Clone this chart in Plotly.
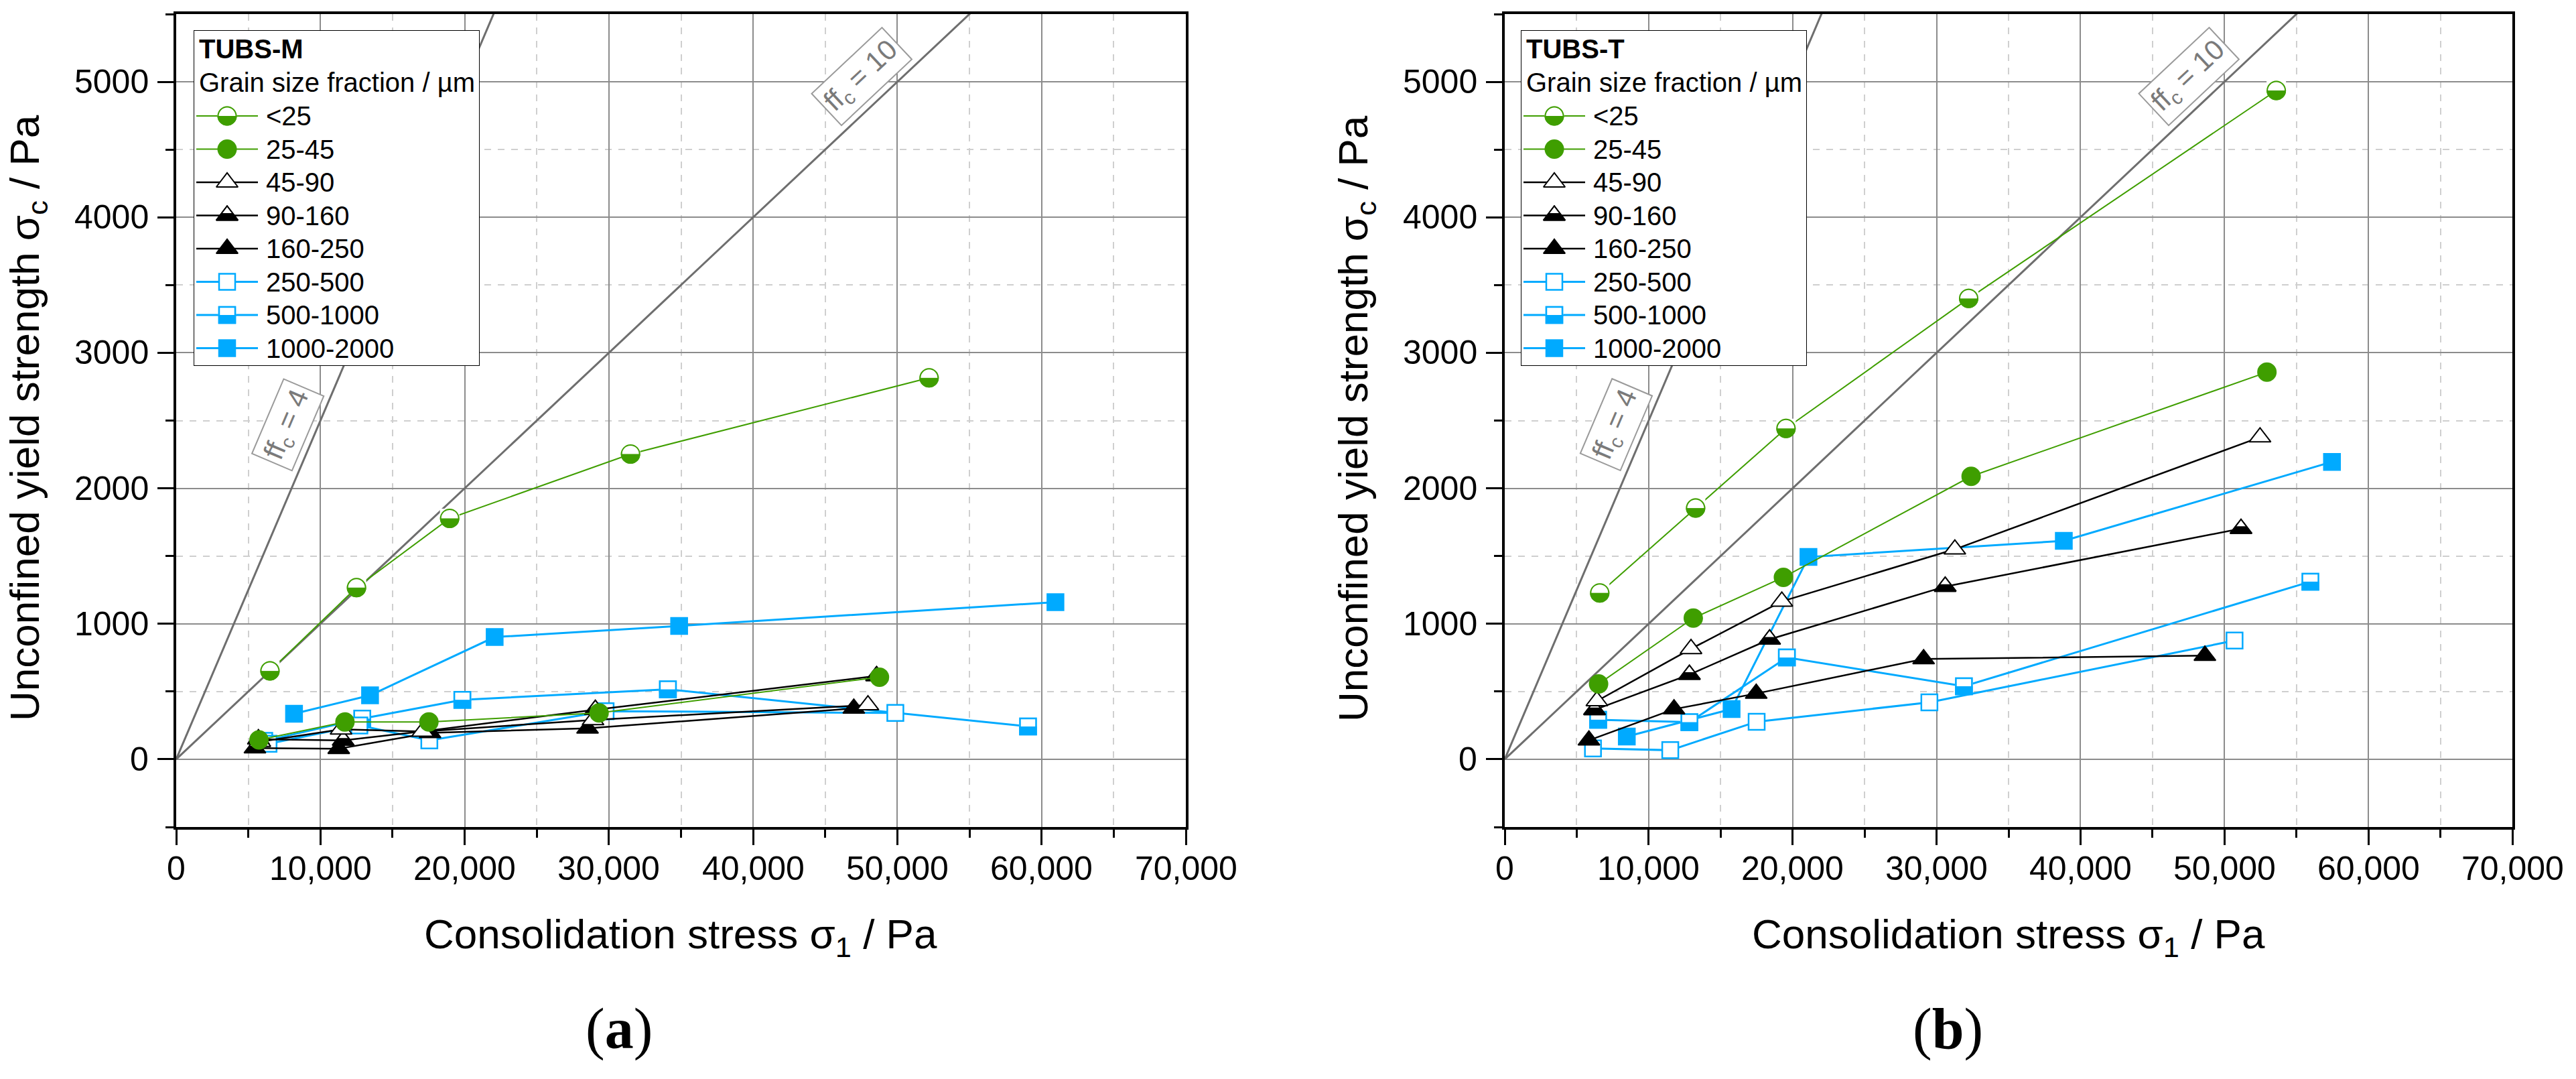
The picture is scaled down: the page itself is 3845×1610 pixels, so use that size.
import math
import plotly.graph_objects as go

W, H = 3845, 1610

fractions = ["<25", "25-45", "45-90", "90-160", "160-250", "250-500", "500-1000", "1000-2000"]

# (a) TUBS-M, consolidation stress sigma_1 / Pa and unconfined yield strength sigma_c / Pa
m_x_lt25 = [6500, 12500, 18960, 31500, 52200]
m_y_lt25 = [652, 1267, 1778, 2253, 2815]
m_x_25_45 = [5740, 11700, 17520, 29320, 48760]
m_y_25_45 = [143, 275, 275, 342, 606]
m_x_45_90 = [5800, 11430, 17090, 28900, 47960]
m_y_45_90 = [130, 221, 205, 290, 400]
m_x_90_160 = [5700, 11580, 17400, 29060, 48560]
m_y_90_160 = [148, 139, 210, 366, 615]
m_x_160_250 = [5460, 11270, 17600, 28520, 46980]
m_y_160_250 = [82, 78, 195, 228, 375]
m_x_250_500 = [6400, 12700, 17550, 29770, 49860]
m_y_250_500 = [115, 250, 139, 355, 342]
m_x_500_1000 = [6100, 12900, 19840, 34090, 59060]
m_y_500_1000 = [135, 300, 439, 516, 242]
m_x_1000_2000 = [8170, 13440, 22080, 34870, 60960]
m_y_1000_2000 = [336, 472, 902, 984, 1160]

# (b) TUBS-T
t_x_lt25 = [6600, 13260, 19540, 32230, 53600]
t_y_lt25 = [1228, 1854, 2442, 3401, 4936]
t_x_25_45 = [6520, 13100, 19360, 32400, 52950]
t_y_25_45 = [556, 1042, 1343, 2088, 2857]
t_x_45_90 = [6400, 12940, 19250, 31270, 52470]
t_y_45_90 = [430, 815, 1165, 1550, 2377]
t_x_90_160 = [6240, 12830, 18400, 30600, 51150]
t_y_90_160 = [365, 625, 885, 1275, 1702]
t_x_160_250 = [5850, 11760, 17470, 29100, 48640]
t_y_160_250 = [140, 370, 485, 740, 765]
t_x_250_500 = [6130, 11500, 17500, 29500, 50700]
t_y_250_500 = [80, 67, 277, 420, 876]
t_x_500_1000 = [6490, 12830, 19600, 31900, 55970]
t_y_500_1000 = [292, 274, 751, 539, 1311]
t_x_1000_2000 = [8480, 15760, 21100, 38840, 57470]
t_y_1000_2000 = [168, 371, 1493, 1612, 2195]

ffc_values = [4, 10]
x_range = [0, 70000]
y_range = [-500, 5500]
x_tick_values = [0, 10000, 20000, 30000, 40000, 50000, 60000, 70000]
y_tick_values = [0, 1000, 2000, 3000, 4000, 5000]

tubs_m = [(m_x_lt25, m_y_lt25), (m_x_25_45, m_y_25_45), (m_x_45_90, m_y_45_90),
          (m_x_90_160, m_y_90_160), (m_x_160_250, m_y_160_250), (m_x_250_500, m_y_250_500),
          (m_x_500_1000, m_y_500_1000), (m_x_1000_2000, m_y_1000_2000)]
tubs_t = [(t_x_lt25, t_y_lt25), (t_x_25_45, t_y_25_45), (t_x_45_90, t_y_45_90),
          (t_x_90_160, t_y_90_160), (t_x_160_250, t_y_160_250), (t_x_250_500, t_y_250_500),
          (t_x_500_1000, t_y_500_1000), (t_x_1000_2000, t_y_1000_2000)]

GREEN = "#3f9e00"
BLUE = "#00aaff"
BLACK = "#000000"
GRID = "#8c8c8c"
GRID_MINOR = "#cfcfcf"
FFC_GREY = "#6e6e6e"
SANS = "Liberation Sans, Arial, sans-serif"

styles = [
    dict(color=GREEN, kind="circle", fill="half", lw=2),
    dict(color=GREEN, kind="circle", fill="full", lw=2),
    dict(color=BLACK, kind="triangle", fill="open", lw=2.5),
    dict(color=BLACK, kind="triangle", fill="half", lw=2.5),
    dict(color=BLACK, kind="triangle", fill="full", lw=2.5),
    dict(color=BLUE, kind="square", fill="open", lw=3),
    dict(color=BLUE, kind="square", fill="half", lw=3),
    dict(color=BLUE, kind="square", fill="full", lw=3),
]
SYMBOL = {"circle": "circle", "triangle": "triangle-up", "square": "square"}
SIZE = {"circle": 27, "triangle": 28, "square": 24}
OUTLINE = {"circle": 2, "triangle": 2, "square": 2.5}

# pixel layout of the two panels
PX_LEFT = [263, 1770]
PX_RIGHT = [2246, 3750]
PX_TOP, PX_BOTTOM = 21, 1234
SHIFT = PX_RIGHT[0] - PX_LEFT[0]


def fx(p):
    return p / W


def fy(p):
    return 1 - p / H


def marker_layers(x, y, st, xa, ya):
    col, kind, fill = st["color"], st["kind"], st["fill"]
    d, ow, sym = SIZE[kind], OUTLINE[kind], SYMBOL[kind]
    common = dict(x=x, y=y, mode="markers", xaxis=xa, yaxis=ya,
                  hoverinfo="skip", showlegend=False)
    out = [go.Scatter(marker=dict(symbol=sym, size=d, color=col if fill != "open" else "white",
                                  line=dict(color=col, width=ow)), **common)]
    if fill == "half":
        # white cap over the upper half, then the outline again
        if kind == "triangle":
            cap = dict(symbol="triangle-down", size=d / 2, color="white",
                       line=dict(width=0), angle=180, standoff=d / 4)
        else:
            w = d / 2 + ow / 2
            cap = dict(symbol="line-ew", size=(d + ow) / 1.4, color="white",
                       line=dict(color="white", width=w), angle=180, standoff=w / 2)
        out.append(go.Scatter(marker=cap, **common))
        out.append(go.Scatter(marker=dict(symbol=sym + "-open", size=d, color=col,
                                          line=dict(color=col, width=ow)), **common))
    return out


def add_series(fig, x, y, st, xa, ya):
    fig.add_trace(go.Scatter(x=x, y=y, mode="lines", line=dict(color=st["color"], width=st["lw"]),
                             xaxis=xa, yaxis=ya, hoverinfo="skip", showlegend=False))
    for t in marker_layers(x, y, st, xa, ya):
        fig.add_trace(t)


def text(fig, x, y, s, size, xref="paper", yref="paper", xanchor="center", angle=0,
         family=SANS):
    fig.add_annotation(x=x, y=y, xref=xref, yref=yref, text=s, showarrow=False,
                       xanchor=xanchor, yanchor="middle", textangle=angle,
                       font=dict(family=family, size=size, color="black"))


fig = go.Figure()

panels = [("x", "y", tubs_m), ("x2", "y2", tubs_t)]
for xa, ya, data in panels:
    for ffc in ffc_values:
        fig.add_trace(go.Scatter(x=x_range, y=[v / ffc for v in x_range], mode="lines",
                                 line=dict(color=FFC_GREY, width=3), xaxis=xa, yaxis=ya,
                                 hoverinfo="skip", showlegend=False))
    for (sx, sy), st in reversed(list(zip(data, styles))):
        add_series(fig, sx, sy, st, xa, ya)

# legend boxes drawn on their own small axes
LEG_W, LEG_H = 427, 501
LEG_ROW0, LEG_STEP = 128, 49.5
legends = [("x3", "y3", "TUBS-M", 289), ("x4", "y4", "TUBS-T", 2270)]
for xa, ya, title, left in legends:
    fig.add_shape(type="rect", xref=xa, yref=ya, x0=0, x1=LEG_W, y0=0, y1=LEG_H,
                  line=dict(color="black", width=2), fillcolor="white", layer="below")
    text(fig, 6, 28, "<b>" + title + "</b>", 40, xa, ya, "left")
    text(fig, 6, 78, "Grain size fraction / µm", 40, xa, ya, "left")
    for i, (name, st) in enumerate(zip(fractions, styles)):
        row = LEG_ROW0 + LEG_STEP * i
        fig.add_trace(go.Scatter(x=[4, 96], y=[row, row], mode="lines",
                                 line=dict(color=st["color"], width=st["lw"]),
                                 xaxis=xa, yaxis=ya, hoverinfo="skip", showlegend=False))
        for t in marker_layers([50], [row], st, xa, ya):
            fig.add_trace(t)
        text(fig, 106, row, name.replace("<", "&lt;"), 40, xa, ya, "left")


def data_xaxis(px, anchor):
    return dict(domain=[fx(px[0]), fx(px[1])], anchor=anchor, range=x_range,
                tick0=0, dtick=10000, ticks="outside", ticklen=23, tickwidth=3,
                tickcolor="black", showticklabels=False, showline=True,
                linewidth=4, linecolor="black", mirror=True, showgrid=True,
                gridcolor=GRID, gridwidth=2, zeroline=False, fixedrange=True,
                minor=dict(dtick=5000, ticks="outside", ticklen=12, tickwidth=3,
                           tickcolor="black", showgrid=True, gridcolor=GRID_MINOR,
                           gridwidth=1.5, griddash="10px,10px"))


def data_yaxis(anchor):
    return dict(domain=[fy(PX_BOTTOM), fy(PX_TOP)], anchor=anchor, range=y_range,
                tick0=0, dtick=1000, ticks="outside", ticklen=24, tickwidth=3,
                tickcolor="black", showticklabels=False, showline=True, linewidth=4,
                linecolor="black", mirror=True, showgrid=True, gridcolor=GRID,
                gridwidth=2, zeroline=False, fixedrange=True,
                minor=dict(dtick=500, ticks="outside", ticklen=12, tickwidth=3,
                           tickcolor="black", showgrid=True, gridcolor=GRID_MINOR,
                           gridwidth=1.5, griddash="10px,10px"))


def legend_axes(left, anchor_x, anchor_y):
    xa = dict(domain=[fx(left), fx(left + LEG_W)], anchor=anchor_y, range=[0, LEG_W],
              visible=False, fixedrange=True)
    ya = dict(domain=[fy(45 + LEG_H), fy(45)], anchor=anchor_x, range=[LEG_H, 0],
              visible=False, fixedrange=True)
    return xa, ya


lx3, ly3 = legend_axes(289, "x3", "y3")
lx4, ly4 = legend_axes(2270, "x4", "y4")

fig.update_layout(
    width=W, height=H, margin=dict(l=0, r=0, t=0, b=0),
    paper_bgcolor="white", plot_bgcolor="white", showlegend=False,
    font=dict(family=SANS, color="black"),
    xaxis=data_xaxis(PX_LEFT, "y"), yaxis=data_yaxis("x"),
    xaxis2=data_xaxis(PX_RIGHT, "y2"), yaxis2=data_yaxis("x2"),
    xaxis3=lx3, yaxis3=ly3, xaxis4=lx4, yaxis4=ly4,
)

# tick labels
for k, (xa, ya) in enumerate([("x", "y"), ("x2", "y2")]):
    for v in x_tick_values:
        text(fig, v, fy(1296), "{:,}".format(v), 50, xref=xa)
    for v in y_tick_values:
        text(fig, fx(224 + k * SHIFT), v, str(v), 50, yref=ya, xanchor="right")

# ffc labels rotated along their lines
px_per_x = (PX_LEFT[1] - PX_LEFT[0]) / (x_range[1] - x_range[0])
px_per_y = (PX_BOTTOM - PX_TOP) / (y_range[1] - y_range[0])
ffc_label_pos = {4: (7750, 2470), 10: (47500, 5040)}
for xa, ya in [("x", "y"), ("x2", "y2")]:
    for ffc in ffc_values:
        ang = math.degrees(math.atan(px_per_y / (ffc * px_per_x)))
        lx, ly = ffc_label_pos[ffc]
        fig.add_annotation(x=lx, y=ly, xref=xa, yref=ya, showarrow=False,
                           xanchor="center", yanchor="middle",
                           text="ff<sub>c</sub> = %d" % ffc, textangle=-ang,
                           font=dict(family=SANS, size=42, color="#7a7a7a"),
                           bordercolor="#9a9a9a", borderwidth=2, borderpad=5,
                           bgcolor="white")

# axis titles and panel letters
for k in range(2):
    off = k * SHIFT
    px = PX_LEFT if k == 0 else PX_RIGHT
    text(fig, fx(41 + off), fy(624), "Unconfined yield strength σ<sub>c</sub> / Pa", 62,
         angle=-90)
    text(fig, fx((px[0] + px[1]) / 2), fy(1398), "Consolidation stress σ<sub>1</sub> / Pa", 62)
    text(fig, fx(924 + off), fy(1535), "(<b>%s</b>)" % ("a" if k == 0 else "b"), 86,
         family="Liberation Serif, Times New Roman, serif")

fig.write_html("out.html", config={"displayModeBar": False},
               post_script="document.body.style.margin='0px';")
